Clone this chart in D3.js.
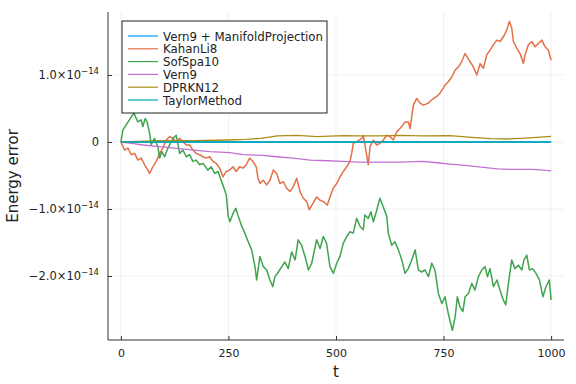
<!DOCTYPE html>
<html>
<head>
<meta charset="utf-8">
<script src="https://cdn.jsdelivr.net/npm/d3@7"></script>
<style>
  body { margin: 0; background: #fff; }
  text { font-family: "DejaVu Sans", sans-serif; fill: #222; }
</style>
</head>
<body>
<svg id="chart" width="576" height="384"></svg>
<script>
// energy error values, in units of 1e-14, as [t, err] pairs
const vern9Manifold = [[0, 0], [1000, 0]];
const kahanLi8 = [[0,0],[8.6,-0.12],[16.3,-0.09],[24,-0.19],[31.9,-0.17],[39.5,-0.27],[47.2,-0.24],[55.1,-0.34],[62.8,-0.42],[66.7,-0.47],[74.4,-0.37],[82.1,-0.29],[90,-0.17],[97.7,-0.09],[105.3,0.03],[113.3,0.08],[120.9,0.055],[128.6,0.005],[136.5,0.055],[144.2,0.005],[151.9,-0.045],[159.8,-0.045],[167.4,-0.12],[175.1,-0.17],[183,-0.19],[190.7,-0.22],[198.4,-0.24],[206.3,-0.22],[214,-0.29],[221.6,-0.32],[229.5,-0.39],[237.2,-0.52],[244.9,-0.44],[252.8,-0.42],[260.5,-0.37],[268.1,-0.44],[276,-0.37],[283.7,-0.39],[291.4,-0.34],[299.3,-0.24],[307,-0.29],[314.7,-0.37],[318.6,-0.54],[323.3,-0.62],[330.9,-0.57],[338.8,-0.64],[346.5,-0.57],[354.2,-0.42],[362.1,-0.47],[369.8,-0.62],[377.4,-0.59],[385.3,-0.69],[393,-0.74],[400.7,-0.67],[408.6,-0.54],[416.3,-0.74],[424,-0.84],[431.9,-0.89],[437.9,-1.01],[447.2,-0.91],[455.1,-0.82],[462.8,-0.87],[470.5,-0.89],[479.8,-0.94],[486,-0.82],[493.7,-0.69],[501.6,-0.62],[509.3,-0.52],[517,-0.44],[524.9,-0.37],[532.6,-0.29],[536.5,-0.17],[540.2,-0.02],[548.1,0.005],[559.8,0.055],[563.5,0.10],[567.4,-0.045],[575.1,-0.34],[579.1,-0.07],[586.7,0.03],[594.7,-0.045],[602.3,-0.02],[610,0.03],[617.9,0.10],[625.6,0.08],[633.3,0.03],[641.2,0.15],[652.8,0.23],[660.5,0.30],[668.1,0.30],[672.1,0.20],[679.8,0.55],[687.7,0.65],[695.3,0.58],[703,0.55],[714.7,0.58],[722.6,0.63],[734.2,0.68],[741.9,0.73],[753.5,0.85],[761.2,0.90],[769.1,0.97],[776.7,1.07],[784.4,1.12],[792.3,1.20],[800,1.32],[811.6,1.20],[819.3,1.12],[827.2,1.00],[834.9,1.17],[842.6,1.10],[850.5,1.30],[858.1,1.37],[865.8,1.45],[873.7,1.52],[881.4,1.50],[889.1,1.57],[897,1.67],[903,1.80],[908.6,1.70],[912.3,1.50],[920.2,1.40],[927.9,1.32],[935.6,1.17],[939.5,1.30],[947.2,1.45],[955.1,1.50],[962.8,1.42],[970.5,1.47],[978.4,1.52],[986,1.42],[993.7,1.37],[1000,1.22]];
const sofSpa10 = [[0,0],[4.7,0.18],[30,0.43],[39.5,0.30],[47,0.33],[51,0.23],[56.5,0.35],[61,0.30],[66.7,0.13],[70.5,-0.04],[78,0.055],[86,-0.07],[90,-0.24],[95,-0.145],[101.6,-0.22],[109,-0.094],[117,0.005],[121,0.055],[128.6,0.10],[136.5,-0.17],[144,-0.12],[152,-0.22],[160,-0.19],[167,-0.29],[175,-0.27],[183,-0.34],[191,-0.32],[202,-0.42],[210,-0.37],[218,-0.47],[226,-0.44],[233,-0.57],[237,-0.64],[245,-0.79],[249.5,-1.11],[253.5,-1.19],[261,-1.06],[267,-0.99],[273,-1.11],[281,-1.26],[288,-1.36],[296,-1.49],[304,-1.61],[311.6,-1.86],[315.6,-2.06],[323,-1.71],[331,-1.86],[339,-1.91],[346.5,-2.06],[353,-2.16],[358,-2.01],[366,-1.94],[374,-1.86],[381,-1.79],[389,-1.89],[397,-1.64],[405,-1.76],[412,-1.46],[420,-1.54],[428,-1.71],[436,-1.91],[443.5,-1.81],[455,-1.46],[463,-1.59],[470.5,-1.41],[478,-1.51],[486,-1.86],[494,-1.96],[501.6,-1.81],[509,-1.71],[517,-1.51],[525,-1.41],[532.6,-1.34],[540,-1.36],[548,-1.14],[556,-1.26],[563.5,-1.31],[567,-1.09],[575,-1.14],[581,-1.04],[587,-1.19],[595,-1.01],[602,-0.84],[610,-0.97],[618,-1.11],[621.6,-1.36],[629.5,-1.54],[637,-1.49],[645,-1.61],[653,-1.76],[660.5,-1.96],[668,-1.89],[676,-1.76],[684,-1.61],[691.4,-1.91],[699,-1.94],[707,-1.91],[715,-2.01],[722.6,-1.81],[730,-1.91],[738,-2.26],[746,-2.41],[753.5,-2.31],[761,-2.56],[770.5,-2.81],[777,-2.61],[782,-2.31],[788,-2.46],[795,-2.53],[800,-2.31],[808,-2.26],[815.6,-2.11],[823,-2.21],[831,-2.01],[839,-1.91],[846.5,-1.86],[852,-2.01],[858,-1.89],[866,-2.16],[874,-2.06],[881,-2.21],[889,-2.36],[894.7,-2.43],[900.7,-2.11],[908.6,-1.76],[916,-1.89],[924,-1.84],[932,-1.91],[937,-1.76],[943.5,-1.69],[949.5,-1.91],[957,-1.89],[965,-1.96],[973,-2.06],[981,-2.31],[988,-2.16],[996,-2.06],[1000,-2.36]];
const vern9 = [[0,0],[25,-0.02],[52,-0.045],[90,-0.07],[130,-0.094],[170,-0.12],[207,-0.145],[253,-0.16],[284,-0.19],[330,-0.2],[362,-0.22],[400,-0.24],[440,-0.27],[480,-0.28],[517,-0.29],[552,-0.3],[600,-0.3],[650,-0.3],[700,-0.29],[735,-0.31],[765,-0.33],[800,-0.35],[843,-0.38],[875,-0.4],[904,-0.41],[958,-0.41],[980,-0.42],[1000,-0.43]];
const dprkn12 = [[0,0],[40,0.01],[90,0.02],[170,0.02],[246,0.03],[290,0.04],[325,0.055],[364,0.09],[410,0.10],[456,0.08],[517,0.094],[550,0.09],[600,0.09],[650,0.10],[700,0.09],[765,0.094],[815,0.07],[860,0.05],[898,0.045],[930,0.055],[958,0.065],[1000,0.085]];
const taylorMethod = [[0, 0], [1000, 0]];

const seriesNames = ["Vern9 + ManifoldProjection", "KahanLi8", "SofSpa10", "Vern9", "DPRKN12", "TaylorMethod"];
const seriesData = [vern9Manifold, kahanLi8, sofSpa10, vern9, dprkn12, taylorMethod];
const colors = ["#009AFA", "#E36F47", "#3EA44E", "#C271D2", "#AC8D18", "#00A9AD"];
const xTicks = [0, 250, 500, 750, 1000];
const yTicks = [1e-14, 0, -1e-14, -2e-14];
const yTickLabels = [["1.0×10", "−14"], ["0", ""], ["−1.0×10", "−14"], ["−2.0×10", "−14"]];

const svg = d3.select('#chart');
const m = { left: 108, right: 564, top: 12, bottom: 340 };

const x = d3.scaleLinear().domain([-30, 1030]).range([m.left, m.right]);
const y = d3.scaleLinear().domain([-2.955e-14, 1.94e-14]).range([m.bottom, m.top]);

// grid
svg.append('g').selectAll('line')
    .data(xTicks)
    .enter()
    .append('line')
    .attr('x1', d => x(d)).attr('x2', d => x(d))
    .attr('y1', m.top).attr('y2', m.bottom)
    .attr('stroke', '#000').attr('stroke-opacity', 0.1).attr('stroke-width', 0.6);
svg.append('g').selectAll('line')
    .data(yTicks)
    .enter()
    .append('line')
    .attr('x1', m.left).attr('x2', m.right)
    .attr('y1', d => y(d)).attr('y2', d => y(d))
    .attr('stroke', '#000').attr('stroke-opacity', 0.1).attr('stroke-width', 0.6);

// lines
svg.append('defs').append('clipPath').attr('id', 'clip')
    .append('rect').attr('x', m.left).attr('y', m.top).attr('width', m.right - m.left).attr('height', m.bottom - m.top);

const line = d3.line()
    .x(d => x(d[0]))
    .y(d => y(d[1] * 1e-14));

svg.append('g').attr('clip-path', 'url(#clip)')
    .selectAll('path')
    .data(seriesData)
    .enter()
    .append('path')
    .attr('d', line)
    .attr('fill', 'none')
    .attr('stroke', (d, i) => colors[i])
    .attr('stroke-width', (d, i) => (i === 1 || i === 2) ? 1.5 : 1.3)
    .attr('stroke-linejoin', 'round');

// axes (ticks point inward, like Plots)
const xAxis = d3.axisBottom(x).tickValues(xTicks).tickFormat(d3.format('d'))
    .tickSizeInner(-4).tickSizeOuter(0).tickPadding(9);
const gx = svg.append('g').attr('transform', 'translate(0,' + m.bottom + ')').call(xAxis);
gx.select('.domain').attr('d', 'M' + m.left + ',0H' + m.right).attr('stroke', '#333');
gx.selectAll('.tick line').attr('stroke', '#333');
gx.selectAll('.tick text').attr('font-size', 11).attr('fill', '#222').attr('font-family', 'DejaVu Sans, sans-serif');

const yAxis = d3.axisLeft(y).tickValues(yTicks).tickSizeInner(-4).tickSizeOuter(0).tickFormat('');
const gy = svg.append('g').attr('transform', 'translate(' + m.left + ',0)').call(yAxis);
gy.select('.domain').attr('d', 'M0,' + m.top + 'V' + m.bottom).attr('stroke', '#333');
gy.selectAll('.tick line').attr('stroke', '#333');

// y tick labels with superscript exponent
const ylab = svg.append('g').selectAll('text')
    .data(yTicks)
    .enter()
    .append('text')
    .attr('x', 99)
    .attr('y', d => y(d) + 4)
    .attr('text-anchor', 'end')
    .attr('font-size', 11.5);
ylab.append('tspan').text((d, i) => yTickLabels[i][0]);
ylab.append('tspan').attr('dy', -5).attr('font-size', 8.5).text((d, i) => yTickLabels[i][1]);

// axis titles
svg.append('text').attr('x', (m.left + m.right) / 2).attr('y', 377)
    .attr('text-anchor', 'middle').attr('font-size', 15).text('t');
svg.append('text').attr('transform', 'translate(18,' + ((m.top + m.bottom) / 2) + ') rotate(-90)')
    .attr('text-anchor', 'middle').attr('font-size', 15).text('Energy error');

// legend
const legend = svg.append('g').attr('transform', 'translate(122,21)');
legend.append('rect').attr('width', 205).attr('height', 92)
    .attr('fill', '#fff').attr('stroke', '#222').attr('stroke-width', 1);
const rows = legend.selectAll('g.row')
    .data(seriesNames)
    .enter()
    .append('g')
    .attr('class', 'row')
    .attr('transform', (d, i) => 'translate(0,' + (15 + i * 12.8) + ')');
rows.append('line').attr('x1', 6).attr('x2', 36).attr('y1', 0).attr('y2', 0)
    .attr('stroke', (d, i) => colors[i]).attr('stroke-width', 1.2);
rows.append('text').attr('x', 41).attr('y', 4.5).attr('font-size', 11.8).text(d => d);
</script>
</body>
</html>
